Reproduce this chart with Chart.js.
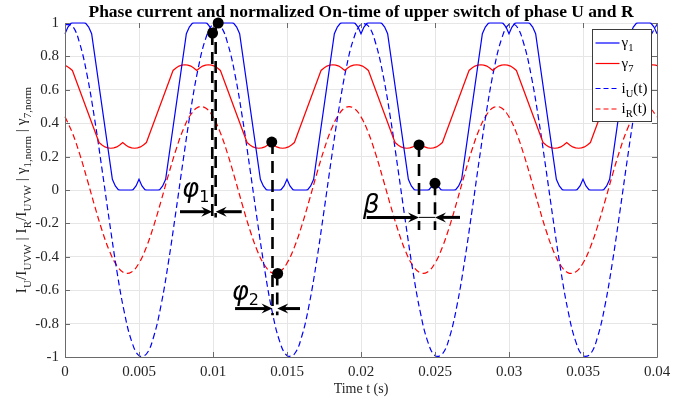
<!DOCTYPE html>
<html>
<head>
<meta charset="utf-8">
<script src="https://cdn.jsdelivr.net/npm/chart.js@4.4.0/dist/chart.umd.min.js"></script>
<style>
  html, body { margin: 0; padding: 0; background: #fff; }
  #wrap { width: 693px; height: 403px; }
</style>
</head>
<body>
<div id="wrap"><canvas id="plot" width="693" height="403"></canvas></div>
<script>
// ---- data ----
const xTicks = [0, 0.005, 0.01, 0.015, 0.02, 0.025, 0.03, 0.035, 0.04];
const xTickLabels = ['0', '0.005', '0.01', '0.015', '0.02', '0.025', '0.03', '0.035', '0.04'];
const yTicks = [-1, -0.8, -0.6, -0.4, -0.2, 0, 0.2, 0.4, 0.6, 0.8, 1];
const yTickLabels = ['-1', '-0.8', '-0.6', '-0.4', '-0.2', '0', '0.2', '0.4', '0.6', '0.8', '1'];

// gamma_1 (blue solid)
const gamma1T = [
  0, 0.0002, 0.0004, 0.0005, 0.0013, 0.0014, 0.0016, 0.0018, 0.0032, 0.0034, 0.0036, 0.0037, 0.0045, 0.0046, 0.0048,
  0.005, 0.0052, 0.0054, 0.0055, 0.0063, 0.0064, 0.0066, 0.0068, 0.0082, 0.0084, 0.0086, 0.0087, 0.0095, 0.0096, 0.0098,
  0.01, 0.0102, 0.0104, 0.0105, 0.0113, 0.0114, 0.0116, 0.0118, 0.0132, 0.0134, 0.0136, 0.0137, 0.0145, 0.0146, 0.0148,
  0.015, 0.0152, 0.0154, 0.0155, 0.0163, 0.0164, 0.0166, 0.0168, 0.0182, 0.0184, 0.0186, 0.0187, 0.0195, 0.0196, 0.0198,
  0.02, 0.0202, 0.0204, 0.0205, 0.0213, 0.0214, 0.0216, 0.0218, 0.0232, 0.0234, 0.0236, 0.0237, 0.0245, 0.0246, 0.0248,
  0.025, 0.0252, 0.0254, 0.0255, 0.0263, 0.0264, 0.0266, 0.0268, 0.0282, 0.0284, 0.0286, 0.0287, 0.0295, 0.0296, 0.0298,
  0.03, 0.0302, 0.0304, 0.0305, 0.0313, 0.0314, 0.0316, 0.0318, 0.0332, 0.0334, 0.0336, 0.0337, 0.0345, 0.0346, 0.0348,
  0.035, 0.0352, 0.0354, 0.0355, 0.0363, 0.0364, 0.0366, 0.0368, 0.0382, 0.0384, 0.0386, 0.0387, 0.0395, 0.0396, 0.0398,
  0.04
];
const gamma1Y = [
  0.936, 0.976, 0.998, 1, 1, 0.998, 0.976, 0.936, 0.064, 0.024, 0.002, 0, 0, 0.002, 0.024,
  0.064, 0.024, 0.002, 0, 0, 0.002, 0.024, 0.064, 0.936, 0.976, 0.998, 1, 1, 0.998, 0.976,
  0.936, 0.976, 0.998, 1, 1, 0.998, 0.976, 0.936, 0.064, 0.024, 0.002, 0, 0, 0.002, 0.024,
  0.064, 0.024, 0.002, 0, 0, 0.002, 0.024, 0.064, 0.936, 0.976, 0.998, 1, 1, 0.998, 0.976,
  0.936, 0.976, 0.998, 1, 1, 0.998, 0.976, 0.936, 0.064, 0.024, 0.002, 0, 0, 0.002, 0.024,
  0.064, 0.024, 0.002, 0, 0, 0.002, 0.024, 0.064, 0.936, 0.976, 0.998, 1, 1, 0.998, 0.976,
  0.936, 0.976, 0.998, 1, 1, 0.998, 0.976, 0.936, 0.064, 0.024, 0.002, 0, 0, 0.002, 0.024,
  0.064, 0.024, 0.002, 0, 0, 0.002, 0.024, 0.064, 0.936, 0.976, 0.998, 1, 1, 0.998, 0.976,
  0.936
];

// gamma_7 (red solid)
const gamma7T = [
  0,
  0.0001, 0.0003, 0.0005, 0.0023, 0.0025, 0.0027, 0.0029, 0.0031, 0.0033, 0.0035, 0.0037, 0.0039, 0.0041, 0.0043, 0.0045, 0.0047, 0.0049,
  0.0051, 0.0053, 0.0055, 0.0073, 0.0075, 0.0077, 0.0079, 0.0081, 0.0083, 0.0085, 0.0087, 0.0089, 0.0091, 0.0093, 0.0095, 0.0097, 0.0099,
  0.0101, 0.0103, 0.0105, 0.0123, 0.0125, 0.0127, 0.0129, 0.0131, 0.0133, 0.0135, 0.0137, 0.0139, 0.0141, 0.0143, 0.0145, 0.0147, 0.0149,
  0.0151, 0.0153, 0.0155, 0.0173, 0.0175, 0.0177, 0.0179, 0.0181, 0.0183, 0.0185, 0.0187, 0.0189, 0.0191, 0.0193, 0.0195, 0.0197, 0.0199,
  0.0201, 0.0203, 0.0205, 0.0223, 0.0225, 0.0227, 0.0229, 0.0231, 0.0233, 0.0235, 0.0237, 0.0239, 0.0241, 0.0243, 0.0245, 0.0247, 0.0249,
  0.0251, 0.0253, 0.0255, 0.0273, 0.0275, 0.0277, 0.0279, 0.0281, 0.0283, 0.0285, 0.0287, 0.0289, 0.0291, 0.0293, 0.0295, 0.0297, 0.0299,
  0.0301, 0.0303, 0.0305, 0.0323, 0.0325, 0.0327, 0.0329, 0.0331, 0.0333, 0.0335, 0.0337, 0.0339, 0.0341, 0.0343, 0.0345, 0.0347, 0.0349,
  0.0351, 0.0353, 0.0355, 0.0373, 0.0375, 0.0377, 0.0379, 0.0381, 0.0383, 0.0385, 0.0387, 0.0389, 0.0391, 0.0393, 0.0395, 0.0397, 0.0399,
  0.04
];
const gamma7Y = [
  0.745,
  0.742, 0.731, 0.716, 0.284, 0.269, 0.258, 0.252, 0.25, 0.252, 0.258, 0.269, 0.284, 0.269, 0.258, 0.252, 0.25, 0.252,
  0.258, 0.269, 0.284, 0.716, 0.731, 0.742, 0.748, 0.75, 0.748, 0.742, 0.731, 0.716, 0.731, 0.742, 0.748, 0.75, 0.748,
  0.742, 0.731, 0.716, 0.284, 0.269, 0.258, 0.252, 0.25, 0.252, 0.258, 0.269, 0.284, 0.269, 0.258, 0.252, 0.25, 0.252,
  0.258, 0.269, 0.284, 0.716, 0.731, 0.742, 0.748, 0.75, 0.748, 0.742, 0.731, 0.716, 0.731, 0.742, 0.748, 0.75, 0.748,
  0.742, 0.731, 0.716, 0.284, 0.269, 0.258, 0.252, 0.25, 0.252, 0.258, 0.269, 0.284, 0.269, 0.258, 0.252, 0.25, 0.252,
  0.258, 0.269, 0.284, 0.716, 0.731, 0.742, 0.748, 0.75, 0.748, 0.742, 0.731, 0.716, 0.731, 0.742, 0.748, 0.75, 0.748,
  0.742, 0.731, 0.716, 0.284, 0.269, 0.258, 0.252, 0.25, 0.252, 0.258, 0.269, 0.284, 0.269, 0.258, 0.252, 0.25, 0.252,
  0.258, 0.269, 0.284, 0.716, 0.731, 0.742, 0.748, 0.75, 0.748, 0.742, 0.731, 0.716, 0.731, 0.742, 0.748, 0.75, 0.748,
  0.745
];

// sample times for the two currents
const timeS = [
  0, 0.0005, 0.001, 0.0015, 0.002, 0.0025, 0.003, 0.0035, 0.004, 0.0045,
  0.005, 0.0055, 0.006, 0.0065, 0.007, 0.0075, 0.008, 0.0085, 0.009, 0.0095,
  0.01, 0.0105, 0.011, 0.0115, 0.012, 0.0125, 0.013, 0.0135, 0.014, 0.0145,
  0.015, 0.0155, 0.016, 0.0165, 0.017, 0.0175, 0.018, 0.0185, 0.019, 0.0195,
  0.02, 0.0205, 0.021, 0.0215, 0.022, 0.0225, 0.023, 0.0235, 0.024, 0.0245,
  0.025, 0.0255, 0.026, 0.0265, 0.027, 0.0275, 0.028, 0.0285, 0.029, 0.0295,
  0.03, 0.0305, 0.031, 0.0315, 0.032, 0.0325, 0.033, 0.0335, 0.034, 0.0345,
  0.035, 0.0355, 0.036, 0.0365, 0.037, 0.0375, 0.038, 0.0385, 0.039, 0.0395,
  0.04
];
// i_U(t) (blue dashed)
const iU = [
  0.992, 0.982, 0.876, 0.685, 0.426, 0.125, -0.187, -0.482, -0.729, -0.905,
  -0.992, -0.982, -0.876, -0.685, -0.426, -0.125, 0.187, 0.482, 0.729, 0.905,
  0.992, 0.982, 0.876, 0.685, 0.426, 0.125, -0.187, -0.482, -0.729, -0.905,
  -0.992, -0.982, -0.876, -0.685, -0.426, -0.125, 0.187, 0.482, 0.729, 0.905,
  0.992, 0.982, 0.876, 0.685, 0.426, 0.125, -0.187, -0.482, -0.729, -0.905,
  -0.992, -0.982, -0.876, -0.685, -0.426, -0.125, 0.187, 0.482, 0.729, 0.905,
  0.992, 0.982, 0.876, 0.685, 0.426, 0.125, -0.187, -0.482, -0.729, -0.905,
  -0.992, -0.982, -0.876, -0.685, -0.426, -0.125, 0.187, 0.482, 0.729, 0.905,
  0.992
];
// i_R(t) (red dashed)
const iR = [
  0.438, 0.342, 0.213, 0.063, -0.094, -0.241, -0.365, -0.452, -0.496, -0.491,
  -0.438, -0.342, -0.213, -0.063, 0.094, 0.241, 0.365, 0.452, 0.496, 0.491,
  0.438, 0.342, 0.213, 0.063, -0.094, -0.241, -0.365, -0.452, -0.496, -0.491,
  -0.438, -0.342, -0.213, -0.063, 0.094, 0.241, 0.365, 0.452, 0.496, 0.491,
  0.438, 0.342, 0.213, 0.063, -0.094, -0.241, -0.365, -0.452, -0.496, -0.491,
  -0.438, -0.342, -0.213, -0.063, 0.094, 0.241, 0.365, 0.452, 0.496, 0.491,
  0.438, 0.342, 0.213, 0.063, -0.094, -0.241, -0.365, -0.452, -0.496, -0.491,
  -0.438, -0.342, -0.213, -0.063, 0.094, 0.241, 0.365, 0.452, 0.496, 0.491,
  0.438
];

// annotation marks (data units): [t, yTop, yBottom]
const guideLines = [
  [0.00995, 0.94, -0.165], [0.01018, 1.0, -0.165],
  [0.01402, 0.287, -0.75], [0.01434, -0.5, -0.75],
  [0.02392, 0.27, -0.24], [0.025, 0.04, -0.24]
];
const markerDots = [[0.00997, 0.94], [0.01035, 1.0], [0.01397, 0.287], [0.01437, -0.5], [0.02392, 0.27], [0.025, 0.04]];
// [y, left tail, left tip, right tail, right tip]
const gapArrows = [
  [-0.13, 0.00777, 0.00995, 0.01194, 0.01018],
  [-0.71, 0.01149, 0.01402, 0.01588, 0.01434],
  [-0.164, 0.02039, 0.02392, 0.02669, 0.025]
];
// [symbol, subscript, t, y(baseline)]
const gapLabels = [['φ', '1', 0.00791, -0.042], ['φ', '2', 0.01126, -0.659], ['β', '', 0.02014, -0.138]];

const serif = "'Liberation Serif', 'Times New Roman', serif";
const pts = (t, v) => t.map((x, i) => ({ x: x, y: v[i] }));

function richWidth(ctx, parts, size, sub) {
  let w = 0;
  parts.forEach(([s, isSub]) => {
    ctx.font = (isSub ? sub : size) + 'px ' + serif;
    w += ctx.measureText(s).width;
  });
  return w;
}
function richText(ctx, parts, x, y, size, sub, shift) {
  let cx = x;
  parts.forEach(([s, isSub]) => {
    ctx.font = (isSub ? sub : size) + 'px ' + serif;
    ctx.fillText(s, cx, y + (isSub ? shift : 0));
    cx += ctx.measureText(s).width;
  });
}
function arrow(ctx, x0, y, x1) {
  const d = Math.sign(x1 - x0);
  ctx.beginPath();
  ctx.moveTo(x0, y);
  ctx.lineTo(x1 - d * 6, y);
  ctx.stroke();
  ctx.beginPath();
  ctx.moveTo(x1, y);
  ctx.lineTo(x1 - d * 11, y - 5);
  ctx.lineTo(x1 - d * 7, y);
  ctx.lineTo(x1 - d * 11, y + 5);
  ctx.closePath();
  ctx.fill();
}

const decor = {
  id: 'decor',
  afterDraw(chart) {
    const { ctx, chartArea: a } = chart;
    const X = v => chart.scales.x.getPixelForValue(v);
    const Y = v => chart.scales.y.getPixelForValue(v);
    ctx.save();

    // axes frame + inward ticks
    ctx.strokeStyle = '#6a6a6a';
    ctx.lineWidth = 1;
    ctx.beginPath();
    ctx.moveTo(a.left + 0.5, a.top);
    ctx.lineTo(a.left + 0.5, a.bottom + 0.5);
    ctx.lineTo(a.right + 0.5, a.bottom + 0.5);
    ctx.lineTo(a.right + 0.5, a.top);
    xTicks.forEach(v => {
      const px = Math.round(X(v)) + 0.5;
      ctx.moveTo(px, a.bottom); ctx.lineTo(px, a.bottom - 5);
      ctx.moveTo(px, a.top); ctx.lineTo(px, a.top + 5);
    });
    yTicks.forEach(v => {
      const py = Math.round(Y(v)) + 0.5;
      ctx.moveTo(a.left, py); ctx.lineTo(a.left + 5, py);
      ctx.moveTo(a.right, py); ctx.lineTo(a.right - 5, py);
    });
    ctx.stroke();

    // phase annotations
    ctx.strokeStyle = '#000';
    ctx.fillStyle = '#000';
    ctx.lineWidth = 2.6;
    ctx.setLineDash([12, 7]);
    guideLines.forEach(([t, y0, y1]) => {
      ctx.beginPath();
      ctx.moveTo(X(t), Y(y0));
      ctx.lineTo(X(t), Y(y1));
      ctx.stroke();
    });
    ctx.setLineDash([]);
    ctx.lineWidth = 3;
    gapArrows.forEach(([y, l0, l1, r0, r1]) => {
      arrow(ctx, X(l0), Y(y), X(l1));
      arrow(ctx, X(r0), Y(y), X(r1));
    });
    ctx.lineWidth = 1;
    const br = gapArrows[2];
    ctx.beginPath();
    ctx.moveTo(X(br[2]), Y(br[0]));
    ctx.lineTo(X(br[4]), Y(br[0]));
    ctx.stroke();
    markerDots.forEach(([t, v]) => {
      ctx.beginPath();
      ctx.arc(X(t), Y(v), 5.5, 0, Math.PI * 2);
      ctx.fill();
    });
    gapLabels.forEach(([s, sub, t, v]) => {
      ctx.font = "italic 26px 'DejaVu Sans'";
      ctx.textAlign = 'left';
      ctx.textBaseline = 'alphabetic';
      ctx.fillText(s, X(t), Y(v));
      const w = ctx.measureText(s).width;
      ctx.font = "16px 'DejaVu Sans'";
      ctx.fillText(sub, X(t) + w, Y(v) + 5);
    });

    // legend
    const lx = a.right - 64.5, ly = a.top + 6.5, lw = 59, lh = 92;
    ctx.fillStyle = '#fff';
    ctx.fillRect(lx, ly, lw, lh);
    ctx.strokeStyle = '#3c3c3c';
    ctx.lineWidth = 1;
    ctx.strokeRect(lx, ly, lw, lh);
    const rows = [
      { c: '#0000ff', dash: [], y: 13.5, parts: [['γ', 0], ['1', 1]] },
      { c: '#ff0000', dash: [], y: 34, parts: [['γ', 0], ['7', 1]] },
      { c: '#0000ff', dash: [5, 3], y: 59, parts: [['i', 0], ['U', 1], ['(t)', 0]] },
      { c: '#ff0000', dash: [5, 3], y: 79.5, parts: [['i', 0], ['R', 1], ['(t)', 0]] }
    ];
    rows.forEach(r => {
      ctx.strokeStyle = r.c;
      ctx.lineWidth = 1.2;
      ctx.setLineDash(r.dash);
      ctx.beginPath();
      ctx.moveTo(lx + 3, ly + r.y);
      ctx.lineTo(lx + 27, ly + r.y);
      ctx.stroke();
      ctx.setLineDash([]);
      ctx.fillStyle = '#000';
      ctx.textBaseline = 'alphabetic';
      richText(ctx, r.parts, lx + 29, ly + r.y + 4, 15, 10.5, 4);
    });

    // title and axis labels
    ctx.fillStyle = '#000';
    ctx.textAlign = 'center';
    ctx.textBaseline = 'alphabetic';
    ctx.font = 'bold 17.5px ' + serif;
    ctx.fillText('Phase current and normalized On-time of upper switch of phase U and R', (a.left + a.right) / 2, 17);
    ctx.fillStyle = '#262626';
    ctx.font = '14px ' + serif;
    ctx.fillText('Time t (s)', (a.left + a.right) / 2, 393);

    const yl = [['I', 0], ['U', 1], ['/I', 0], ['UVW', 1], [' | I', 0], ['R', 1], ['/I', 0], ['UVW', 1],
      [' | γ', 0], ['1,norm', 1], [' | γ', 0], ['7,norm', 1]];
    ctx.textAlign = 'left';
    const w = richWidth(ctx, yl, 15.5, 11);
    ctx.translate(26, (a.top + a.bottom) / 2);
    ctx.rotate(-Math.PI / 2);
    richText(ctx, yl, -w / 2, 0, 15.5, 11, 5);
    ctx.restore();
  }
};

new Chart(document.getElementById('plot'), {
  type: 'scatter',
  data: {
    datasets: [
      { label: 'γ1', data: pts(gamma1T, gamma1Y), showLine: true, borderColor: '#0000ff', borderWidth: 1.2, pointRadius: 0, tension: 0, clip: 3 },
      { label: 'γ7', data: pts(gamma7T, gamma7Y), showLine: true, borderColor: '#ff0000', borderWidth: 1.2, pointRadius: 0, tension: 0, clip: 3 },
      { label: 'iU(t)', data: pts(timeS, iU), showLine: true, borderColor: '#0000ff', borderWidth: 1.2, borderDash: [6, 3.5], pointRadius: 0, tension: 0.4, clip: 3 },
      { label: 'iR(t)', data: pts(timeS, iR), showLine: true, borderColor: '#ff0000', borderWidth: 1.2, borderDash: [6, 3.5], pointRadius: 0, tension: 0.4, clip: 3 }
    ]
  },
  options: {
    responsive: false,
    animation: false,
    devicePixelRatio: 1,
    layout: { padding: { left: 0, right: 36, top: 23, bottom: 0 } },
    plugins: { legend: { display: false }, title: { display: false }, tooltip: { enabled: false } },
    scales: {
      x: {
        type: 'linear', min: 0, max: 0.04,
        afterBuildTicks: s => { s.ticks = xTicks.map(v => ({ value: v })); },
        afterFit: s => { s.height = 46; },
        grid: { color: '#e6e6e6', drawTicks: false },
        border: { display: false },
        ticks: { font: { family: serif, size: 15 }, color: '#262626', padding: 6, maxRotation: 0, autoSkip: false,
          callback: (v, i) => xTickLabels[i] }
      },
      y: {
        type: 'linear', min: -1, max: 1,
        afterBuildTicks: s => { s.ticks = yTicks.map(v => ({ value: v })); },
        afterFit: s => { s.width = 65; },
        grid: { color: '#e6e6e6', drawTicks: false },
        border: { display: false },
        ticks: { font: { family: serif, size: 15 }, color: '#262626', padding: 6, autoSkip: false,
          callback: (v, i) => yTickLabels[i] }
      }
    }
  },
  plugins: [decor]
});
</script>
</body>
</html>
